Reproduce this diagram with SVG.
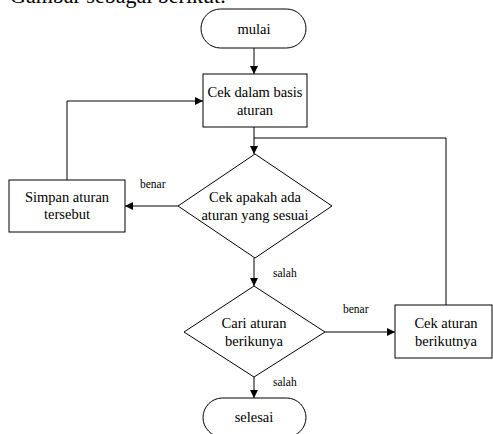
<svg xmlns="http://www.w3.org/2000/svg" width="493" height="434" viewBox="0 0 493 434">
<defs>
<marker id="arr" viewBox="0 0 10 10" refX="10" refY="5" markerWidth="8" markerHeight="8" markerUnits="userSpaceOnUse" orient="auto">
<path d="M0,0 L10,5 L0,10 z" fill="#000"/>
</marker>
</defs>
<style>
.s{fill:#fff;stroke:#000;stroke-width:1}
.t{font-family:'Liberation Serif','DejaVu Serif',serif;font-size:14.5px;fill:#000;text-anchor:middle}
.l{font-family:'Liberation Serif','DejaVu Serif',serif;font-size:11.5px;fill:#000}
.c{fill:none;stroke:#000;stroke-width:1}
</style>
<rect width="493" height="434" fill="#fff"/>
<text x="10" y="3" font-family="Liberation Serif, DejaVu Serif, serif" font-size="22" fill="#000">Gambar sebagai berikut.</text>
<g id="connectors">
<path class="c" d="M254,48 V74" marker-end="url(#arr)"/>
<path class="c" d="M254,127 V154" marker-end="url(#arr)"/>
<path class="c" d="M254,138 H446 V305"/>
<path class="c" d="M178,206 H125" marker-end="url(#arr)"/>
<path class="c" d="M67,180 V101 H203" marker-end="url(#arr)"/>
<path class="c" d="M254,258 V286" marker-end="url(#arr)"/>
<path class="c" d="M325,332 H395" marker-end="url(#arr)"/>
<path class="c" d="M254,377 V398" marker-end="url(#arr)"/>
<text class="l" x="140" y="188">benar</text>
<text class="l" x="273" y="277">salah</text>
<text class="l" x="343" y="313">benar</text>
<text class="l" x="273" y="386">salah</text>
</g>
<g id="mulai">
<rect class="s" x="201" y="9" width="105" height="39" rx="19.5" ry="19.5"/>
<text class="t" x="254" y="34">mulai</text>
</g>
<g id="cek-basis">
<rect class="s" x="203" y="74" width="104" height="53"/>
<text class="t" x="255" y="97">Cek dalam basis</text>
<text class="t" x="255" y="115">aturan</text>
</g>
<g id="cek-apakah">
<polygon class="s" points="255,154 332,206 255,258 178,206"/>
<text class="t" x="255" y="202">Cek apakah ada</text>
<text class="t" x="255" y="220">aturan yang sesuai</text>
</g>
<g id="simpan">
<rect class="s" x="9" y="180" width="116" height="52"/>
<text class="t" x="67" y="202">Simpan aturan</text>
<text class="t" x="67" y="219">tersebut</text>
</g>
<g id="cari">
<polygon class="s" points="254,286 325,332 254,377 184,332"/>
<text class="t" x="254" y="328">Cari aturan</text>
<text class="t" x="254" y="346">berikunya</text>
</g>
<g id="cek-berikut">
<rect class="s" x="395" y="305" width="97" height="53"/>
<text class="t" x="446" y="328">Cek aturan</text>
<text class="t" x="446" y="346">berikutnya</text>
</g>
<g id="selesai">
<rect class="s" x="203" y="398" width="103" height="39" rx="19.5" ry="19.5"/>
<text class="t" x="254" y="422">selesai</text>
</g>
</svg>
